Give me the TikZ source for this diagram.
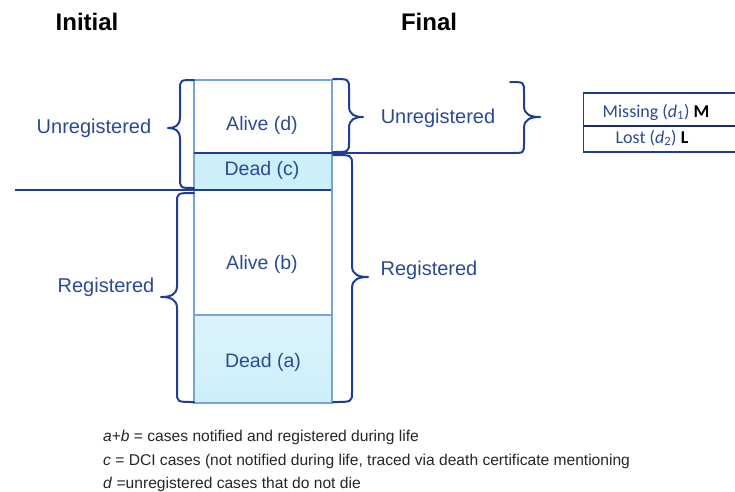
\documentclass[tikz,border=0pt]{standalone}
\usepackage{fontspec}
\setmainfont{Liberation Sans}
\newfontfamily\carl{Carlito}
\definecolor{txtblue}{HTML}{2B4A94}
\definecolor{bracecol}{HTML}{1F3C96}
\definecolor{cellline}{HTML}{74A3DE}
\definecolor{cellfill}{HTML}{CDEFF9}
\definecolor{navy}{HTML}{1A2A6C}
\newcommand{\mybrc}[6]{% xe, xv, xt, y1, ym, y2
  \draw[bracestyle] (#1,#4) .. controls (#2,#4) .. (#2,#4+10) -- (#2,#5-11)
    .. controls (#2,#5-2) and ({#2+(#3-#2)*0.45},#5) .. (#3,#5)
    .. controls ({#2+(#3-#2)*0.45},#5) and (#2,#5+2) .. (#2,#5+11)
    -- (#2,#6-10) .. controls (#2,#6) .. (#1,#6);}
\tikzset{
  bracestyle/.style={draw=bracecol, line width=2pt, line cap=round, line join=round},
  lbl/.style={text=txtblue, font=\fontsize{20}{24}\selectfont, inner sep=0pt, anchor=base},
  cell/.style={text=txtblue, font=\fontsize{19.5}{24}\selectfont, inner sep=0pt, anchor=base},
  title/.style={font=\fontsize{24}{28}\selectfont\bfseries, inner sep=0pt, anchor=base},
  note/.style={text=black!85, font=\fontsize{15.6}{18}\selectfont, inner sep=0pt, anchor=base west},
  boxtxt/.style={text=txtblue, font=\carl\fontsize{18}{21}\selectfont, inner sep=0pt, anchor=base},
  divline/.style={draw=bracecol, line width=2pt},
}
\begin{document}
\begin{tikzpicture}[x=1pt,y=-1pt]
\useasboundingbox (0,0) rectangle (735,491);
% column cells
\fill[cellfill] (194,153) rectangle (332,190);
\shade[top color=cellfill!70, bottom color=cellfill] (194,315) rectangle (332,403);
\draw[cellline, line width=1.5pt] (194,80) rectangle (332,403);
\draw[cellline, line width=1.5pt] (194,315) -- (332,315);
% coordinates
\coordinate (colTR) at (333,153);
\coordinate (lineR) at (512,153);
\coordinate (leftEnd) at (15,190);
\coordinate (colBR) at (331,190);
\coordinate (colL) at (194,153);
% dividing lines
\draw[divline] (colL) -- (colTR) -- (lineR);
\draw[divline] (leftEnd) -- (colBR);
% braces
\mybrc{194}{180}{168}{80}{128}{188}
\mybrc{194}{177}{161}{193}{297}{402}
\mybrc{333}{349}{363}{79}{117}{152}
\mybrc{333}{352}{368}{155}{277}{402}
\draw[bracestyle] (510,82) .. controls (524,82) .. (524,92) -- (524,106)
    .. controls (524,115) and (531,117) .. (540,117)
    .. controls (531,117) and (524,119) .. (524,128)
    -- (524,143) .. controls (524,153) .. (512,153);
% cell texts
\node[cell] (alived) at (262,130) {Alive (d)};
\node[cell] (deadc) at (262,175) {Dead (c)};
\node[cell] (aliveb) at (262,269) {Alive (b)};
\node[cell] (deada) at (263,367) {Dead (a)};
% labels
\node[lbl] (unregL) at (94,133) {Unregistered};
\node[lbl] (regL) at (106,292) {Registered};
\node[lbl] (unregR) at (438,123) {Unregistered};
\node[lbl] (regR) at (429,275) {Registered};
% titles
\node[title] (initial) at (87,30) {Initial};
\node[title] (final) at (429,30) {Final};
% right box
\draw[draw=bracecol, line width=1.8pt] (740,93) -- (583.5,93) -- (583.5,152) -- (740,152);
\draw[navy, line width=2.4pt] (583,126) -- (740,126);
\node[boxtxt] (missing) at (656,117) {Missing (\textit{d}\textsubscript{1}) \textcolor{black}{\bfseries M}};
\node[boxtxt] (lost) at (652,143) {Lost (\textit{d}\textsubscript{2}) \textcolor{black}{\bfseries L}};
% notes
\node[note] (n1) at (103,441) {\textit{a}+\textit{b} = cases notified and registered during life};
\node[note] (n2) at (103,465.5) {\textit{c} = DCI cases (not notified during life, traced via death certificate mentioning};
\node[note] (n3) at (103,488) {\textit{d} =unregistered cases that do not die};
\end{tikzpicture}
\end{document}
